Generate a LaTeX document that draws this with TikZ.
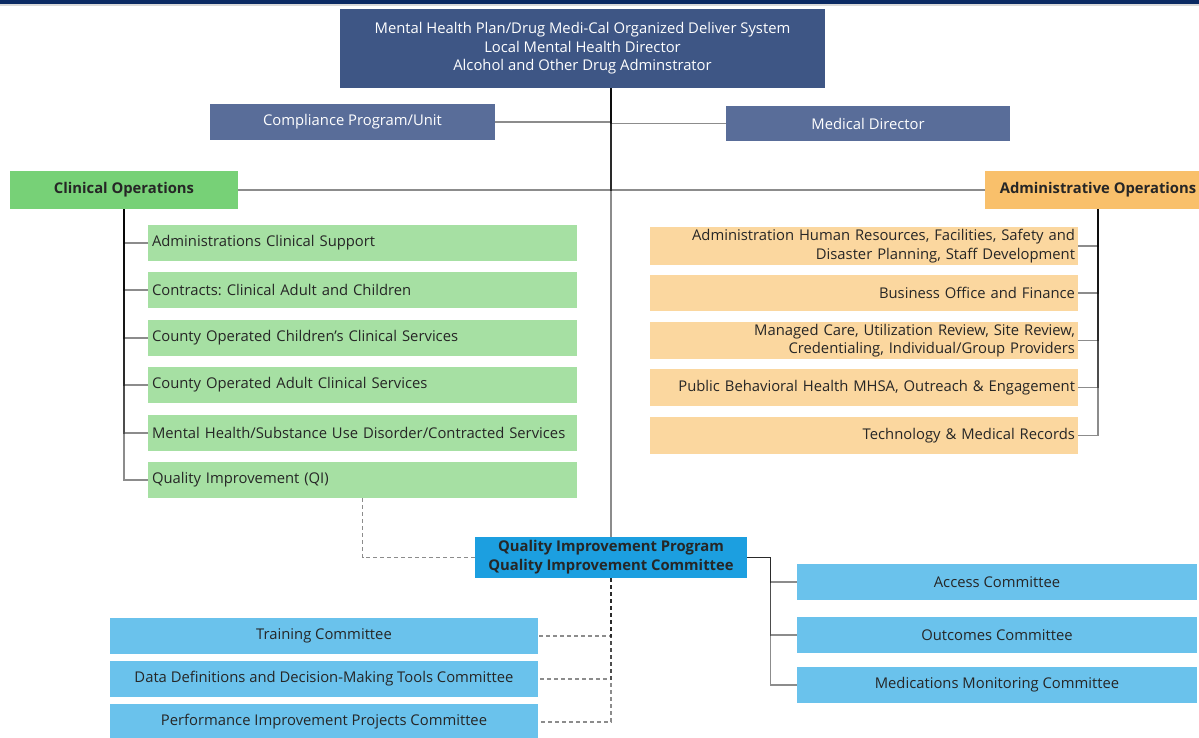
\documentclass[tikz,border=0pt]{standalone}
\usepackage{fontspec}
\setmainfont{Open Sans}
\usetikzlibrary{calc}
\frenchspacing

\definecolor{navy}{HTML}{0B2A63}
\definecolor{headblue}{HTML}{3E5685}
\definecolor{subblue}{HTML}{596D99}
\definecolor{clingreen}{HTML}{77D177}
\definecolor{lightgreen}{HTML}{A6E0A3}
\definecolor{admorange}{HTML}{F9C06B}
\definecolor{lightorange}{HTML}{FBD79F}
\definecolor{qiblue}{HTML}{1C9FE0}
\definecolor{comblue}{HTML}{6AC2EC}

\tikzset{
  box/.style={inner sep=0pt, minimum height=36pt, text=black!85,
    font=\fontsize{14.8}{18.5}\selectfont},
  headbox/.style={box, fill=headblue, text=white, align=center},
  subbox/.style={box, fill=subblue, text=white},
  clinbox/.style={box, fill=clingreen, font=\fontsize{14.8}{18.5}\selectfont\bfseries},
  admbox/.style={box, fill=admorange, font=\fontsize{14.8}{18.5}\selectfont\bfseries},
  greenbox/.style={box, fill=lightgreen, text width=421pt, inner xsep=4pt, align=left},
  orangebox/.style={box, fill=lightorange, text width=422pt, inner xsep=3pt, align=right},
  qibox/.style={box, fill=qiblue, align=center, font=\fontsize{14.8}{19}\selectfont\bfseries},
  combox/.style={box, fill=comblue, align=center},
  link/.style={draw=black, opacity=0.45, line width=1.4pt},
  dashlink/.style={link, dashed, dash pattern=on 4pt off 3pt}
}

\begin{document}
\begin{tikzpicture}[x=1pt,y=-1pt]
\useasboundingbox (0,0) rectangle (1199,738);
\fill[navy] (0,0) rectangle (1199,4);
\fill[black!15] (0,4) rectangle (1199,6);

% top of the chart
\node[headbox, minimum width=485pt, minimum height=79pt] (top) at (582.5,48.5)
  {Mental Health Plan/Drug Medi-Cal Organized Deliver System\\Local Mental Health Director\\Alcohol and Other Drug Adminstrator};
\node[subbox, minimum width=285pt] (comp) at (352.5,122) {Compliance Program/Unit};
\node[subbox, minimum width=284pt, minimum height=35pt] (med) at (868,123.5) {Medical Director};

\node[clinbox, minimum width=228pt, minimum height=38pt] (clin) at (124,190) {Clinical Operations};
\node[admbox, minimum width=226pt, minimum height=38pt] (adm) at (1098,190) {Administrative Operations};

% clinical side
\node[greenbox] (c1) at (362.5,243) {Administrations Clinical Support};
\node[greenbox] (c2) at (362.5,290) {Contracts: Clinical Adult and Children};
\node[greenbox] (c3) at (362.5,338) {County Operated Children’s Clinical Services};
\node[greenbox] (c4) at (362.5,385) {County Operated Adult Clinical Services};
\node[greenbox] (c5) at (362.5,433) {Mental Health/Substance Use Disorder/Contracted Services};
\node[greenbox] (c6) at (362.5,480) {Quality Improvement (QI)};

% administrative side
\node[orangebox, minimum height=38pt] (a1) at (864,246) {Administration Human Resources, Facilities, Safety and\\Disaster Planning, Staff Development};
\node[orangebox] (a2) at (864,293) {Business Office and Finance};
\node[orangebox, minimum height=37pt] (a3) at (864,340.5) {Managed Care, Utilization Review, Site Review,\\Credentialing, Individual/Group Providers};
\node[orangebox, minimum height=37pt] (a4) at (864,387.5) {Public Behavioral Health MHSA, Outreach \& Engagement};
\node[orangebox, minimum height=37pt] (a5) at (864,435.5) {Technology \& Medical Records};

% quality improvement
\node[qibox, minimum width=272pt, minimum height=41pt] (qip) at (611,557.5) {Quality Improvement Program\\Quality Improvement Committee};

\node[combox, minimum width=428pt] (t1) at (324,636) {Training Committee};
\node[combox, minimum width=428pt] (t2) at (324,679) {Data Definitions and Decision-Making Tools Committee};
\node[combox, minimum width=428pt] (t3) at (324,722) {Performance Improvement Projects Committee};

\node[combox, minimum width=400pt] (r1) at (997,582) {Access Committee};
\node[combox, minimum width=400pt] (r2) at (997,635) {Outcomes Committee};
\node[combox, minimum width=400pt] (r3) at (997,685) {Medications Monitoring Committee};

% connectors
\draw[link] (qip.north |- top.south) |- (comp.east);
\draw[link] (qip.north |- top.south) |- (med.west);
\draw[link] (qip.north |- top.south) |- (clin.east);
\draw[link] (qip.north |- top.south) |- (adm.west);
\draw[link] (qip.north |- top.south) -- (qip.north);

\foreach \c in {c1,c2,c3,c4,c5,c6}
  \draw[link] (clin.south) |- (\c.west);
\foreach \a in {a1,a2,a3,a4,a5}
  \draw[link] (adm.south) |- (\a.east);

\draw[dashlink] (c6.south) |- (qip.west);
\foreach \t in {t1,t2,t3}
  \draw[dashlink] (qip.south) |- (\t.east);
\foreach \r in {r1,r2,r3}
  \draw[link] (qip.east) -- ++(23,0) |- (\r.west);
\end{tikzpicture}
\end{document}
